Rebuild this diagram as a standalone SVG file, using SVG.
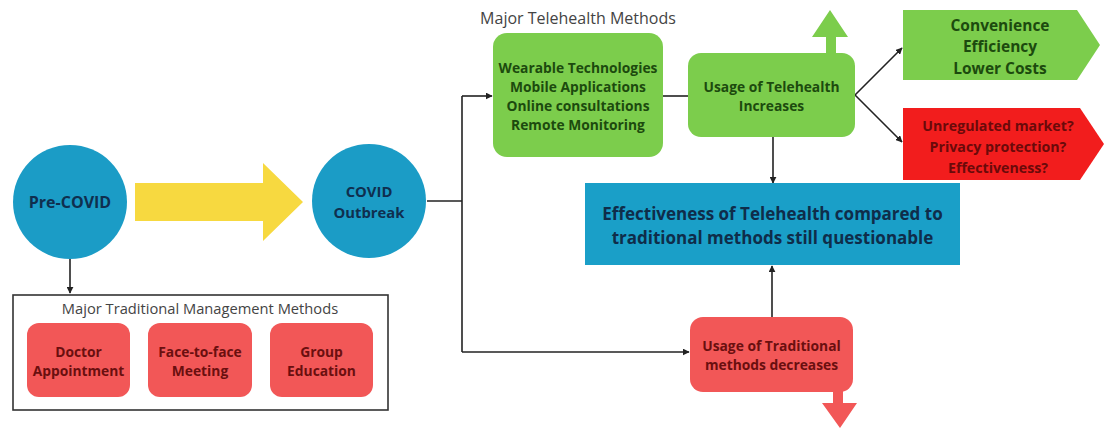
<svg xmlns="http://www.w3.org/2000/svg" width="1108" height="430" viewBox="0 0 1108 430">
<defs>
<marker id="ah" viewBox="0 0 10 10" refX="9" refY="5" markerWidth="7" markerHeight="7" markerUnits="userSpaceOnUse" orient="auto"><path d="M0,0 L10,5 L0,10 z" fill="#222"/></marker>
</defs>
<style>
.t{font-family:"Open Sans","Liberation Sans",sans-serif;font-weight:700;text-anchor:middle;dominant-baseline:central}
.title{font-family:"Open Sans","Liberation Sans",sans-serif;fill:#444;text-anchor:middle}
.circ{fill:#1b9cc6}
.ct{fill:#0f2f4f}
.red{fill:#f25757}
.rt{font-size:13.8px;fill:#6a0f0f}
.grn{fill:#7ccd4c}
.gt{font-size:13.8px;fill:#1c4a0e}
.ln{fill:none;stroke:#222;stroke-width:1.6}
</style>
<rect width="1108" height="430" fill="#fff"/>
<g id="connectors">
<polyline class="ln" points="70,258 70,293" marker-end="url(#ah)"/>
<polyline class="ln" points="427,201 462,201"/>
<polyline class="ln" points="462,96 462,352"/>
<polyline class="ln" points="462,96 492,96" marker-end="url(#ah)"/>
<polyline class="ln" points="462,352 689,352" marker-end="url(#ah)"/>
<polyline class="ln" points="663,96 688,96"/>
<polyline class="ln" points="773,137 773,183" marker-end="url(#ah)"/>
<polyline class="ln" points="772,317 772,266" marker-end="url(#ah)"/>
<polyline class="ln" points="855,95 902,48" marker-end="url(#ah)"/>
<polyline class="ln" points="855,95 902,142" marker-end="url(#ah)"/>
</g>
<g id="yellow-arrow"><path d="M135,183 H263 V163 L303,202 L263,241 V221 H135 Z" fill="#f7d940"/></g>
<g id="pre-covid"><circle class="circ" cx="70" cy="202" r="57"/><text class="t ct" x="70" y="202" style="font-size:16px">Pre-COVID</text></g>
<g id="covid-outbreak"><circle class="circ" cx="369" cy="201" r="57"/><text class="t ct" style="font-size:14.8px"><tspan x="369" y="191">COVID</tspan><tspan x="369" y="212">Outbreak</tspan></text></g>
<g id="traditional">
<rect x="13" y="295" width="375" height="115" fill="#fff" stroke="#333" stroke-width="1.6"/>
<text class="title" x="200" y="314" style="font-size:14.7px">Major Traditional Management Methods</text>
<rect class="red" x="27" y="323" width="103" height="74" rx="12"/>
<text class="t rt"><tspan x="78.5" y="351">Doctor</tspan><tspan x="78.5" y="370">Appointment</tspan></text>
<rect class="red" x="148" y="323" width="104" height="74" rx="12"/>
<text class="t rt"><tspan x="200" y="351">Face-to-face</tspan><tspan x="200" y="370">Meeting</tspan></text>
<rect class="red" x="270" y="323" width="103" height="74" rx="12"/>
<text class="t rt"><tspan x="321.5" y="351">Group</tspan><tspan x="321.5" y="370">Education</tspan></text>
</g>
<g id="telehealth-methods">
<text class="title" x="578" y="24" style="font-size:16px">Major Telehealth Methods</text>
<rect class="grn" x="493" y="33" width="170" height="124" rx="14"/>
<text class="t gt"><tspan x="578" y="67">Wearable Technologies</tspan><tspan x="578" y="86">Mobile Applications</tspan><tspan x="578" y="105">Online consultations</tspan><tspan x="578" y="124">Remote Monitoring</tspan></text>
</g>
<g id="usage-telehealth">
<path class="grn" d="M812,37 L830,10 L848,37 H836 V56 H826 V37 Z"/>
<rect class="grn" x="688" y="53" width="167" height="84" rx="13"/>
<text class="t gt"><tspan x="771.5" y="86">Usage of Telehealth</tspan><tspan x="771.5" y="105">Increases</tspan></text>
</g>
<g id="benefits">
<path class="grn" d="M903,10 H1077 L1100,45 L1077,80 H903 Z"/>
<text class="t gt" style="font-size:15.5px"><tspan x="1000" y="25">Convenience</tspan><tspan x="1000" y="46">Efficiency</tspan><tspan x="1000" y="68">Lower Costs</tspan></text>
</g>
<g id="concerns">
<path d="M903,108 H1080 L1104,144 L1080,180 H903 Z" fill="#f21d1d"/>
<text class="t" style="font-size:14.2px;fill:#6a0a0a"><tspan x="998" y="125">Unregulated market?</tspan><tspan x="998" y="146">Privacy protection?</tspan><tspan x="998" y="167">Effectiveness?</tspan></text>
</g>
<g id="effectiveness">
<rect x="585" y="183" width="375" height="82" fill="#1a9fc8"/>
<text class="t" style="font-size:17px;fill:#0f2d4a"><tspan x="772.5" y="213">Effectiveness of Telehealth compared to</tspan><tspan x="772.5" y="237">traditional methods still questionable</tspan></text>
</g>
<g id="usage-traditional">
<path class="red" d="M833,388 H843 V403 H857 L840,428 L822,403 H833 Z"/>
<rect class="red" x="690" y="317" width="163" height="75" rx="13"/>
<text class="t rt"><tspan x="771.5" y="345">Usage of Traditional</tspan><tspan x="771.5" y="364">methods  decreases</tspan></text>
</g>
</svg>
